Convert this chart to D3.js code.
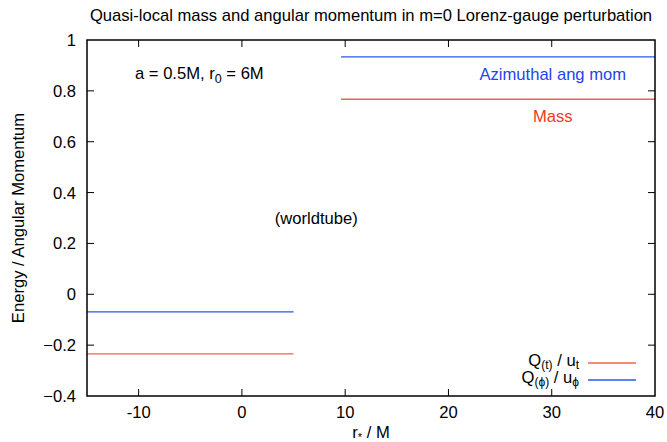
<!DOCTYPE html>
<html>
<head>
<meta charset="utf-8">
<script src="https://cdn.jsdelivr.net/npm/d3@7"></script>
<style>
body { margin: 0; background: #fff; }
text { font-family: "Liberation Sans", Arial, Helvetica, sans-serif; }
</style>
</head>
<body>
<svg id="chart" width="667" height="442"></svg>
<script>
// data
let xTicks = [-10, 0, 10, 20, 30, 40];
let yTicks = [-0.4, -0.2, 0, 0.2, 0.4, 0.6, 0.8, 1];
let massSeg = [{x: -15, y: -0.234}, {x: 5, y: -0.234}];
let massSegOut = [{x: 9.6, y: 0.767}, {x: 40, y: 0.767}];
let angSeg = [{x: -15, y: -0.069}, {x: 5, y: -0.069}];
let angSegOut = [{x: 9.6, y: 0.934}, {x: 40, y: 0.934}];

let red = "#f2604a";
let blue = "#2a55f0";
let fs = 16.6;

let svg = d3.select("#chart");
let m = {left: 87, right: 12, top: 40, bottom: 46};
let W = 667 - m.left - m.right;
let H = 442 - m.top - m.bottom;

let sx = d3.scaleLinear([-15, 40], [m.left, m.left + W]);
let sy = d3.scaleLinear([-0.4, 1], [m.top + H, m.top]);

let g = svg.append("g");

// ticks, inward on all four sides
let tl = 7;
g.selectAll(".xt").data(xTicks.filter(d => d < 40)).join("line")
    .attr("x1", d => sx(d)).attr("x2", d => sx(d))
    .attr("y1", sy(-0.4)).attr("y2", sy(-0.4) - tl)
    .attr("stroke", "#000").attr("stroke-width", 1);
g.selectAll(".xtt").data(xTicks.filter(d => d < 40)).join("line")
    .attr("x1", d => sx(d)).attr("x2", d => sx(d))
    .attr("y1", sy(1)).attr("y2", sy(1) + tl)
    .attr("stroke", "#000").attr("stroke-width", 1);
g.selectAll(".yt").data(yTicks.filter(d => d > -0.4 && d < 1)).join("line")
    .attr("x1", sx(-15)).attr("x2", sx(-15) + tl)
    .attr("y1", d => sy(d)).attr("y2", d => sy(d))
    .attr("stroke", "#000").attr("stroke-width", 1);
g.selectAll(".ytr").data(yTicks.filter(d => d > -0.4 && d < 1)).join("line")
    .attr("x1", sx(40)).attr("x2", sx(40) - tl)
    .attr("y1", d => sy(d)).attr("y2", d => sy(d))
    .attr("stroke", "#000").attr("stroke-width", 1);

// tick labels
g.selectAll(".xl").data(xTicks).join("text")
    .attr("x", d => sx(d)).attr("y", sy(-0.4) + 22)
    .attr("text-anchor", "middle").attr("font-size", fs)
    .text(d => d);
g.selectAll(".yl").data(yTicks).join("text")
    .attr("x", sx(-15) - 11).attr("y", d => sy(d) + 6)
    .attr("text-anchor", "end").attr("font-size", fs)
    .text(d => d3.format("")(d));

// data lines
let line = d3.line().x(d => sx(d.x)).y(d => sy(d.y));
[[angSeg, blue], [angSegOut, blue], [massSeg, red], [massSegOut, red]].forEach(([d, c]) => {
    g.append("path").datum(d)
        .attr("d", line).attr("fill", "none")
        .attr("stroke", c).attr("stroke-width", 1.3);
});

// frame
g.append("rect")
    .attr("x", sx(-15)).attr("y", sy(1))
    .attr("width", sx(40) - sx(-15)).attr("height", sy(-0.4) - sy(1))
    .attr("fill", "none").attr("stroke", "#000").attr("stroke-width", 1.5);

// title
svg.append("text").attr("x", 371).attr("y", 21)
    .attr("text-anchor", "middle").attr("font-size", fs)
    .text("Quasi-local mass and angular momentum in m=0 Lorenz-gauge perturbation");

// axis labels
svg.append("text")
    .attr("transform", "translate(24," + (m.top + H / 2) + ") rotate(-90)")
    .attr("text-anchor", "middle").attr("font-size", fs)
    .text("Energy / Angular Momentum");
let xl = svg.append("text").attr("x", sx(12.5)).attr("y", 438)
    .attr("text-anchor", "middle").attr("font-size", fs);
xl.append("tspan").text("r");
xl.append("tspan").attr("font-size", 11).attr("dy", 3).text("*");
xl.append("tspan").attr("dy", -3).text(" / M");

// annotations
let ann = svg.append("text").attr("x", 135).attr("y", 79).attr("font-size", fs);
ann.append("tspan").text("a = 0.5M, r");
ann.append("tspan").attr("font-size", 12.5).attr("dy", 4).text("0");
ann.append("tspan").attr("dy", -4).text(" = 6M");

svg.append("text").attr("x", sx(7.2)).attr("y", 224)
    .attr("text-anchor", "middle").attr("font-size", fs)
    .text("(worldtube)");
svg.append("text").attr("x", sx(30.1)).attr("y", 80)
    .attr("text-anchor", "middle").attr("font-size", fs).attr("fill", "#2244ee")
    .text("Azimuthal ang mom");
svg.append("text").attr("x", sx(30.1)).attr("y", 122)
    .attr("text-anchor", "middle").attr("font-size", fs).attr("fill", "#f03a1e")
    .text("Mass");

// legend
let legend = [
    {main: "Q", sub1: "(t)", mid: " / u", sub2: "t", color: red},
    {main: "Q", sub1: "(\u03d5)", mid: " / u", sub2: "\u03d5", color: blue}
];
let lg = svg.append("g");
legend.forEach((d, i) => {
    let y = 363 + i * 17;
    let t = lg.append("text").attr("x", 579).attr("y", y + 3)
        .attr("text-anchor", "end").attr("font-size", fs);
    t.append("tspan").text(d.main);
    t.append("tspan").attr("font-size", 12).attr("dy", 3).text(d.sub1);
    t.append("tspan").attr("dy", -3).text(d.mid);
    t.append("tspan").attr("font-size", 12).attr("dy", 3).text(d.sub2);
    lg.append("line").attr("x1", 588).attr("x2", 636)
        .attr("y1", y).attr("y2", y)
        .attr("stroke", d.color).attr("stroke-width", 1.3);
});
</script>
</body>
</html>
